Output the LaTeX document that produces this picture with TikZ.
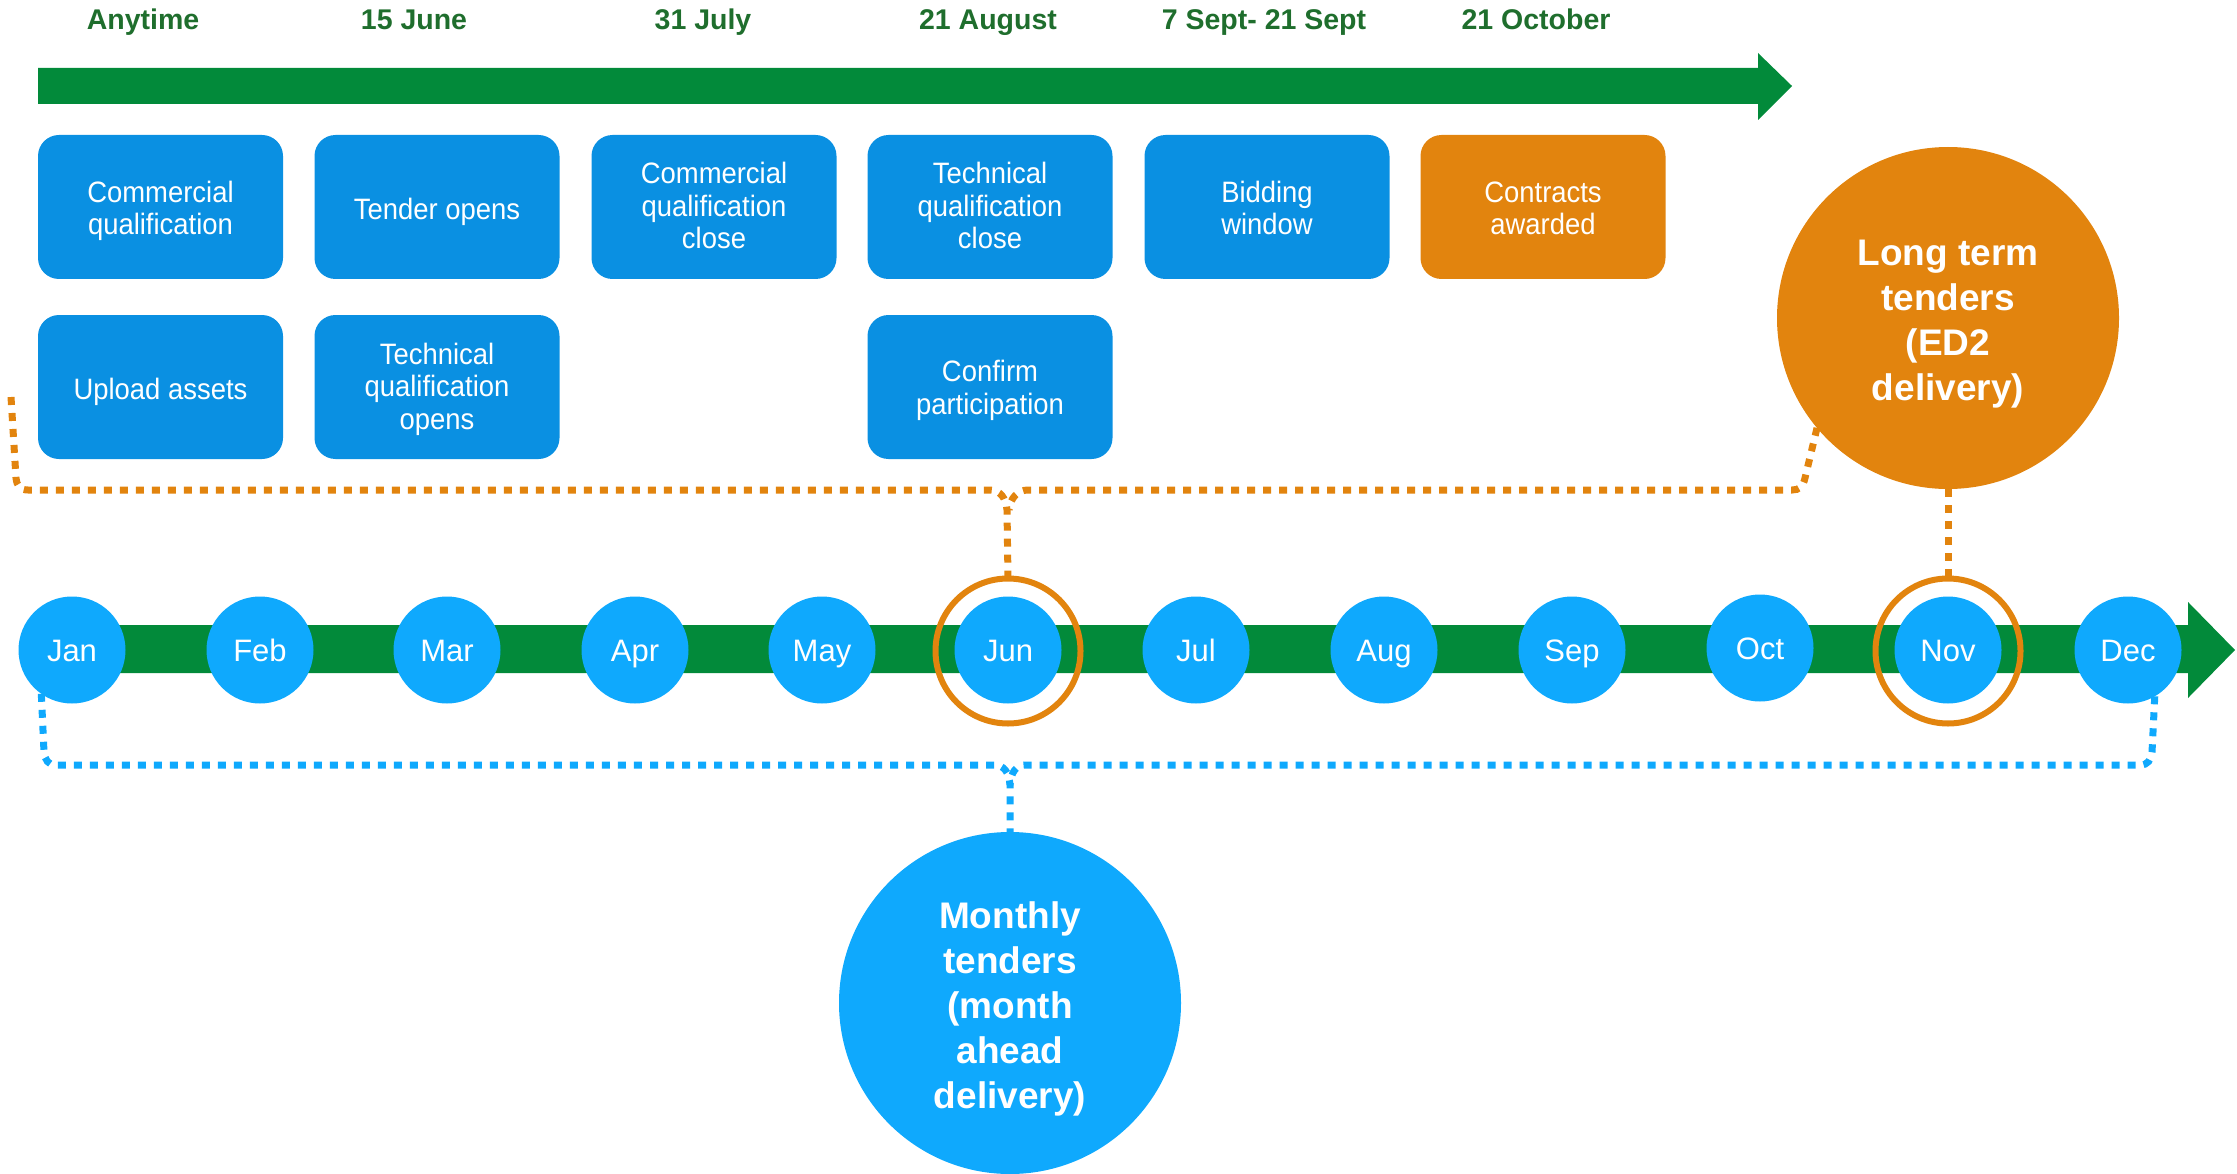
\documentclass[tikz,border=0pt]{standalone}
\usepackage{fontspec}
\setmainfont{Liberation Sans}
\newfontfamily\boxfont[FakeStretch=0.93]{Liberation Sans}
\definecolor{boxblue}{HTML}{0A90E2}
\definecolor{orangeC}{HTML}{E2840E}
\definecolor{greenC}{HTML}{028A3A}
\definecolor{monblue}{HTML}{0FA9FD}
\definecolor{headgreen}{HTML}{1F6E2D}
\newcommand{\circtext}[1]{\raisebox{-6pt}[\height][\depth]{\begin{tabular}{@{}c@{}}#1\end{tabular}}}
\newcommand{\btext}[2]{\raisebox{#1}[\height][\depth]{\begin{tabular}{@{}c@{}}#2\end{tabular}}}
\begin{document}
\begin{tikzpicture}[x=1pt,y=-1pt,
  every node/.style={inner sep=0pt, outer sep=0pt},
  stepbox/.style={rectangle, rounded corners=21pt, fill=boxblue, minimum width=245pt, minimum height=144pt, text=white, font=\boxfont\fontsize{29.5}{32.5}\selectfont},
  orangebox/.style={stepbox, fill=orangeC},
  heading/.style={anchor=base, text=headgreen, font=\fontsize{28.5}{30}\selectfont\bfseries},
  month/.style={circle, fill=monblue, minimum size=107pt, text=white, text height=22pt, text depth=0pt, font=\fontsize{31}{31}\selectfont},
  ring/.style={circle, draw=orangeC, line width=6pt, minimum size=145pt},
  bigcirc/.style={circle, minimum size=342pt, text=white, font=\fontsize{37}{45}\selectfont\bfseries},
  odots/.style={draw=orangeC, line width=7pt, dash pattern=on 8pt off 8pt},
  bdots/.style={draw=monblue, line width=7pt, dash pattern=on 8pt off 8pt}
]
\useasboundingbox (0,0) rectangle (2237,1174);

% top timeline arrow
\fill[greenC] (38,68) -- (1758,68) -- (1758,53) -- (1792,86) -- (1758,120) -- (1758,104) -- (38,104) -- cycle;

% headings
\node[heading] (h1) at (143,30) {Anytime};
\node[heading] (h2) at (414,30) {15 June};
\node[heading] (h3) at (703,30) {31 July};
\node[heading] (h4) at (988,30) {21 August};
\node[heading] (h5) at (1264,30) {7 Sept- 21 Sept};
\node[heading] (h6) at (1536,30) {21 October};

% boxes row 1
\node[stepbox] (b1) at (160.5,207) {\btext{-5pt}{Commercial\\qualification}};
\node[stepbox] (b2) at (437,207) {\btext{-6pt}{Tender opens}};
\node[stepbox] (b3) at (714,207) {\btext{-3pt}{Commercial\\qualification\\close}};
\node[stepbox] (b4) at (990,207) {\btext{-3pt}{Technical\\qualification\\close}};
\node[stepbox] (b5) at (1267,207) {\btext{-5pt}{Bidding\\window}};
\node[orangebox] (b6) at (1543,207) {\btext{-5pt}{Contracts\\awarded}};
% boxes row 2
\node[stepbox] (c1) at (160.5,387) {\btext{-6pt}{Upload assets}};
\node[stepbox] (c2) at (437,387) {\btext{-3pt}{Technical\\qualification\\opens}};
\node[stepbox] (c4) at (990,387) {\btext{-4.5pt}{Confirm\\participation}};

% month timeline
\fill[greenC] (72,625) -- (2188,625) -- (2188,602) -- (2235,650) -- (2188,698) -- (2188,673) -- (72,673) -- cycle;
\node[month] (jan) at (72,650) {Jan};
\node[month] (feb) at (260,650) {Feb};
\node[month] (mar) at (447,650) {Mar};
\node[month] (apr) at (635,650) {Apr};
\node[month] (may) at (822,650) {May};
\node[month] (jun) at (1008,650) {Jun};
\node[month] (jul) at (1196,650) {Jul};
\node[month] (aug) at (1384,650) {Aug};
\node[month] (sep) at (1572,650) {Sep};
\node[month] (oct) at (1760,648) {Oct};
\node[month] (nov) at (1948,650) {Nov};
\node[month] (dec) at (2128,650) {Dec};
\node[ring] (jring) at (1008,651) {};
\node[ring] (nring) at (1948,651) {};

% big circles
\node[bigcirc, fill=orangeC] (lt) at (1948,318) {\circtext{Long term\\tenders\\(ED2\\delivery)}};
\node[bigcirc, fill=monblue] (mon) at (1010,1003) {\circtext{Monthly\\tenders\\(month\\ahead\\delivery)}};

% orange brace
\coordinate (oL) at (11,397);
\draw[odots] (oL) -- (16,478) .. controls (17,486) and (20,490) .. (28,490) -- (990,490) .. controls (1000,490) and (1006,498) .. (1007,510) -- (jring.north);
\draw[odots] (lt.220) -- (1805,478) .. controls (1803,487) and (1799,490) .. (1792,490) -- (1028,490) .. controls (1018,490) and (1010,498) .. (1009,510);
\draw[odots] (lt.south) -- (nring.north);

% blue brace
\draw[bdots] (jan.-125) -- (44,752) .. controls (45,760) and (48,765) .. (56,765) -- (994,765) .. controls (1004,765) and (1009,772) .. (1010,785) -- (mon.north);
\draw[bdots] (dec.-60) -- (2152,752) .. controls (2151,760) and (2148,765) .. (2140,765) -- (1026,765) .. controls (1016,765) and (1011,772) .. (1010,785);
\end{tikzpicture}
\end{document}
